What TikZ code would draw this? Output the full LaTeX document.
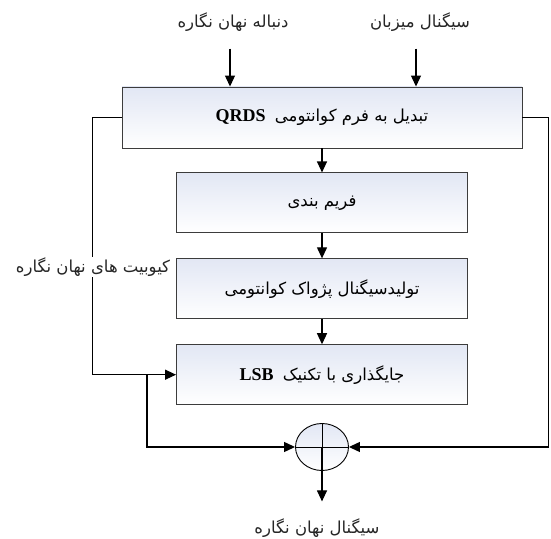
\documentclass[tikz,border=0pt]{standalone}
\usepackage{fontspec}
\setmainfont{Liberation Serif}
\newfontfamily\farsi[Script=Arabic]{DejaVu Sans}
\TeXXeTstate=1
\usepackage{xcolor}
\usetikzlibrary{arrows.meta,positioning,shapes.geometric}

\definecolor{boxtop}{RGB}{226,231,244}
\definecolor{boxedge}{RGB}{60,60,60}
\newcommand{\fa}[1]{{\farsi\beginR #1\endR}}
\newcommand{\la}[1]{\beginL{\rmfamily\bfseries\fontsize{18}{20}\selectfont #1}\endL}

\begin{document}
\begin{tikzpicture}[
  x=1pt, y=1pt,
  font=\fontsize{16.5}{19}\selectfont,
  box/.style={draw=boxedge, line width=0.9pt, top color=boxtop,
              bottom color=white, align=center, minimum height=60pt},
  sumnode/.style={ellipse, draw, line width=0.9pt, top color=boxtop,
              bottom color=white, minimum width=53pt, minimum height=47pt,
              inner sep=0pt},
  note/.style={align=center, inner sep=2pt, text=black!85},
  ar/.style={-{Triangle[length=11pt,width=10pt]}, line width=1.2pt},
]
\useasboundingbox (0,0) rectangle (551,538);

% ---------------- main chain ----------------
\node[box, minimum width=400pt, minimum height=61pt] (qrds) at (322,420.5)
  {\fa{تبدیل به فرم کوانتومی\hspace{4pt} \la{QRDS}}};
\node[box, minimum width=291pt, below=24pt of qrds] (frame) {\fa{فریم بندی}};
\node[box, minimum width=291pt, below=25pt of frame] (echo)
  {\fa{تولیدسیگنال پژواک کوانتومی}};
\node[box, minimum width=291pt, below=25pt of echo] (lsb)
  {\fa{جایگذاری با تکنیک\hspace{4pt} \la{LSB}}};
\node[sumnode] (sum) at (322,91) {};
\draw[line width=0.9pt] (sum.north) -- (sum.south) (sum.west) -- (sum.east);

\draw[ar] (qrds) -- (frame);
\draw[ar] (frame) -- (echo);
\draw[ar] (echo) -- (lsb);

% ---------------- inputs / output ----------------
\node[note] (wmin) at (233,516) {\fa{دنباله نهان نگاره}};
\node[note] (host) at (420,516) {\fa{سیگنال میزبان}};
\draw[ar, shorten <=15pt] (wmin.south -| 230,0) -- (230,0 |- qrds.north);
\draw[ar, shorten <=15pt] (host.south -| 416,0) -- (416,0 |- qrds.north);

\node[note] (out) at (317,10) {\fa{سیگنال نهان نگاره}};
\draw[ar, shorten >=15pt] (sum.center) -- (sum.center |- out.north);

% ---------------- side paths ----------------
\draw[ar] (qrds.west) -- ++(-29,0) |- (lsb.west);
\path (lsb.west) ++(-29,0) coordinate (split);
\draw[ar] (split) |- (sum.west);
\draw[ar] (qrds.east) -- ++(26,0) |- (sum.east);

\node[note, fill=white, inner sep=1pt] (qubits) at (93,271)
  {\fa{کیوبیت های نهان نگاره}};
\end{tikzpicture}
\end{document}
